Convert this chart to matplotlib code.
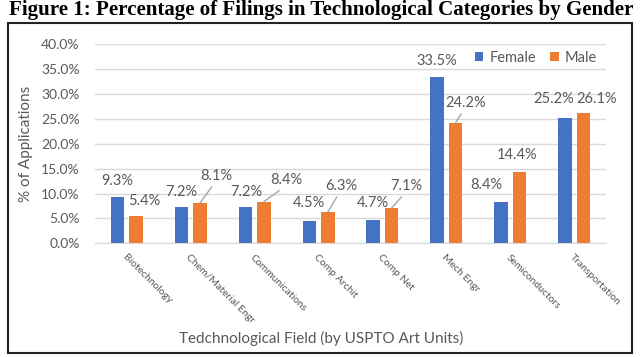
import matplotlib
matplotlib.use("Agg")
import matplotlib.pyplot as plt
import numpy as np
from matplotlib.patches import Rectangle

# ---- data ----
categories = ["Biotechnology", "Chem/Material Engr", "Communications", "Comp Archit",
              "Comp Net", "Mech Engr", "Semiconductors", "Transportation"]
female = [9.3, 7.2, 7.2, 4.5, 4.7, 33.5, 8.4, 25.2]
male = [5.4, 8.1, 8.4, 6.3, 7.1, 24.2, 14.4, 26.1]
yticks = [0, 5, 10, 15, 20, 25, 30, 35, 40]
title = "Figure 1: Percentage of Filings in Technological Categories by Gender"
xlabel = "Tedchnological Field (by USPTO Art Units)"
ylabel = "% of Applications"

# label placement offsets (pixels, relative to bar top) and leader flags
f_off = [(-0.5, 16), (0, 15.5), (1, 15.5), (0, 18), (0, 17), (0, 15.6), (-15, 16.5), (-11.5, 19)]
m_off = [(8, 15.5), (16, 27), (22, 21.5), (13, 26), (15, 22), (10, 20), (-2, 16.7), (13, 14.5)]
m_leader = [False, True, True, True, True, True, False, False]

BLUE = "#4472C4"
ORANGE = "#ED7D31"
TXT = "#595959"
FONT = "Lato"

fig = plt.figure(figsize=(6.4, 3.57), dpi=100)
W, H = 640, 357
ax = fig.add_axes([95 / W, 1 - 243.3 / H, (606 - 95) / W, (243.3 - 44.3) / H])

x = np.arange(len(categories))
bw = 0.21
off = 0.145
ax.bar(x - off, female, bw, color=BLUE, label="Female", zorder=3)
ax.bar(x + off, male, bw, color=ORANGE, label="Male", zorder=3)

ax.set_xlim(-0.5, len(categories) - 0.5)
ax.set_ylim(0, 40)
ax.set_yticks(yticks)
ax.set_yticklabels([f"{v:.1f}%" for v in yticks], fontsize=10, color=TXT, family=FONT)
ax.grid(axis="y", color="#D9D9D9", linewidth=1, zorder=0)
ax.set_axisbelow(True)
for s in ["top", "right", "left"]:
    ax.spines[s].set_visible(False)
ax.spines["bottom"].set_color("#D9D9D9")
ax.tick_params(axis="both", length=0)
ax.tick_params(axis="y", pad=11)
ax.set_xticks(x)
ax.set_xticklabels(categories, rotation=-45, ha="left", va="top", rotation_mode="anchor",
                   fontsize=7.5, color=TXT, family=FONT)
ax.tick_params(axis="x", pad=7)

for i, v in enumerate(female):
    dx, dy = f_off[i]
    ax.annotate(f"{v}%", xy=(x[i] - off, v), xytext=(dx, dy), textcoords="offset pixels",
                ha="center", va="center", fontsize=10.5, color=TXT, family=FONT)
for i, v in enumerate(male):
    dx, dy = m_off[i]
    kw = {}
    if m_leader[i]:
        kw["arrowprops"] = dict(arrowstyle="-", color="#A6A6A6", lw=1,
                                shrinkA=1, shrinkB=0, relpos=(0.45, 0))
    ax.annotate(f"{v}%", xy=(x[i] + off, v), xytext=(dx, dy), textcoords="offset pixels",
                ha="center", va="center", fontsize=10.5, color=TXT, family=FONT, **kw)

leg = ax.legend(loc="center right", bbox_to_anchor=(1.0, 1 - (58 - 44.3) / 199), frameon=False,
                ncol=2, fontsize=10.5, handlelength=0.6, handleheight=0.6,
                columnspacing=1.0, handletextpad=0.4, borderaxespad=0.2,
                prop={"family": FONT, "size": 10.5})
for t in leg.get_texts():
    t.set_color(TXT)

fig.text(321 / W, 1 - 338 / H, xlabel, ha="center", va="center", fontsize=11, color=TXT, family=FONT)
fig.text(26 / W, 1 - 143.5 / H, ylabel, ha="center", va="center", rotation=90, fontsize=11,
         color=TXT, family=FONT)

# chart border
fig.patches.append(Rectangle((7.5 / W, 1 - 352.5 / H), (632 - 7.5) / W, (352.5 - 22.5) / H,
                             transform=fig.transFigure, fill=False, edgecolor="#222222", lw=1.5))

# title fitted to width
t = fig.text(321 / W, 1 - 14.5 / H, title, ha="center", va="baseline", fontsize=15,
             fontweight="bold", family="Liberation Serif", color="black")
fig.canvas.draw()
bb = t.get_window_extent()
t.set_fontsize(15 * 626 / bb.width)

fig.savefig("out.png", dpi=100)
